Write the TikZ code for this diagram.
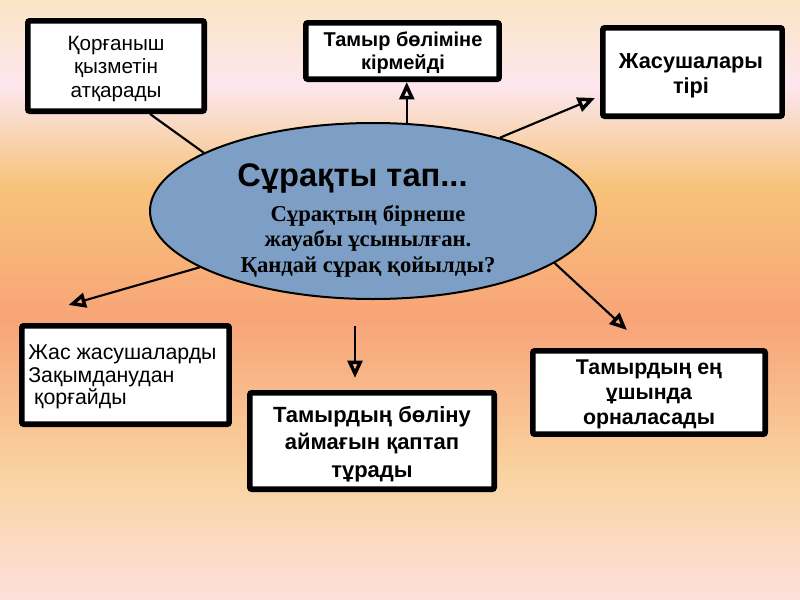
\documentclass[tikz,border=0pt]{standalone}
\usepackage{fontspec}
\setmainfont{Liberation Sans}
\newfontfamily\serifkz{Liberation Serif}
\usetikzlibrary{arrows.meta,calc,shapes.geometric}
\definecolor{ellfill}{HTML}{7D9FC5}
\definecolor{bgA}{HTML}{FAE5C4}
\definecolor{bgB}{HTML}{FDE6EE}
\definecolor{bgBC}{HTML}{F9DCCC}
\definecolor{bgC}{HTML}{F7C37A}
\definecolor{bgD}{HTML}{F8A478}
\definecolor{bgE}{HTML}{F9D3A0}
\definecolor{bgF}{HTML}{FDE0DB}
\begin{document}
\begin{tikzpicture}[x=0.75pt,y=-0.75pt,
  box/.style={draw=black,fill=white,line width=4.2pt,rounded corners=1.5pt,inner sep=0pt},
  txt/.style={inner sep=0pt,align=center},
  conn/.style={line width=1.6pt},
  arr/.style={line width=1.6pt,-{Triangle[open,line width=2.6pt,length=13pt,width=11pt]}}]
\useasboundingbox (0,0) rectangle (800,600);
% background
\shade[top color=bgA,bottom color=bgB] (0,0) rectangle (800,85.5);
\shade[top color=bgB,bottom color=bgBC] (0,85) rectangle (800,115.5);
\shade[top color=bgBC,bottom color=bgC] (0,115) rectangle (800,185.5);
\shade[top color=bgC,bottom color=bgD] (0,185) rectangle (800,320.5);
\shade[top color=bgD,bottom color=bgE] (0,320) rectangle (800,472.5);
\shade[top color=bgE,bottom color=bgF] (0,472) rectangle (800,600);
% boxes
\node[box,minimum width=132.3pt,minimum height=67.8pt] (b1) at (116,66) {};
\node[txt,font=\fontsize{15.5}{17.6}\selectfont] (b1t) at (116,69)
  {Қорғаныш\\ қызметін\\атқарады};
\node[box,minimum width=145pt,minimum height=42.3pt] (b2) at (402.5,51) {};
\node[txt,font=\bfseries\fontsize{15}{17.3}\selectfont] (b2t) at (403,53)
  {Тамыр бөліміне\\кірмейді};
\node[box,minimum width=134.5pt,minimum height=66.3pt] (b3) at (692.5,72) {};
\node[txt,font=\bfseries\fontsize{16.3}{18.75}\selectfont] (b3t) at (691,75.5)
  {Жасушалары\\тірі};
\node[box,minimum width=155.5pt,minimum height=73.8pt] (b5) at (125.5,375) {};
\node[txt,anchor=west,align=left,font=\fontsize{16}{17}\selectfont] (b5t) at (28,377)
  {Жас жасушаларды\\Зақымданудан\\\ қорғайды};
\node[box,minimum width=183.3pt,minimum height=72.3pt] (b6) at (372,441) {};
\node[txt,font=\bfseries\fontsize{16.5}{20.5}\selectfont] (b6t) at (372,444)
  {Тамырдың бөліну\\аймағын қаптап\\тұрады};
\node[box,minimum width=174.3pt,minimum height=62.5pt] (b7) at (649,392.5) {};
\node[txt,font=\bfseries\fontsize{16}{18.75}\selectfont] (b7t) at (649,394.5)
  {Тамырдың ең\\ұшында\\орналасады};
% ellipse
\node[ellipse,draw=black,fill=ellfill,line width=1.5pt,minimum width=334.5pt,minimum height=132pt,inner sep=0pt] (e) at (373,211) {};
\node[font=\bfseries\fontsize{24.5}{27}\selectfont] (t) at (352.5,178) {Сұрақты тап...};
\node[font=\serifkz\bfseries\fontsize{17}{19}\selectfont,align=center] (s) at (368,241)
  {Сұрақтың бірнеше\\жауабы ұсынылған.\\Қандай сұрақ қойылды?};
% connectors
\draw[conn] ($(b1.south)+(34,0)$) -- (e.161);
\draw[arr] (e.69) -- (e.69 |- b2.south);
\draw[arr] (e.30) -- ($(b3.west)+(-5,26)$);
\draw[arr] (e.198) -- ($(b5.north)+(-57,-18)$);
\draw[arr] ($(e.south)+(-18,26)$) -- ($(b6.north)+(-17,-12)$);
\draw[arr] (e.-16) -- ($(b7.north)+(-22,-18)$);
\end{tikzpicture}
\end{document}
